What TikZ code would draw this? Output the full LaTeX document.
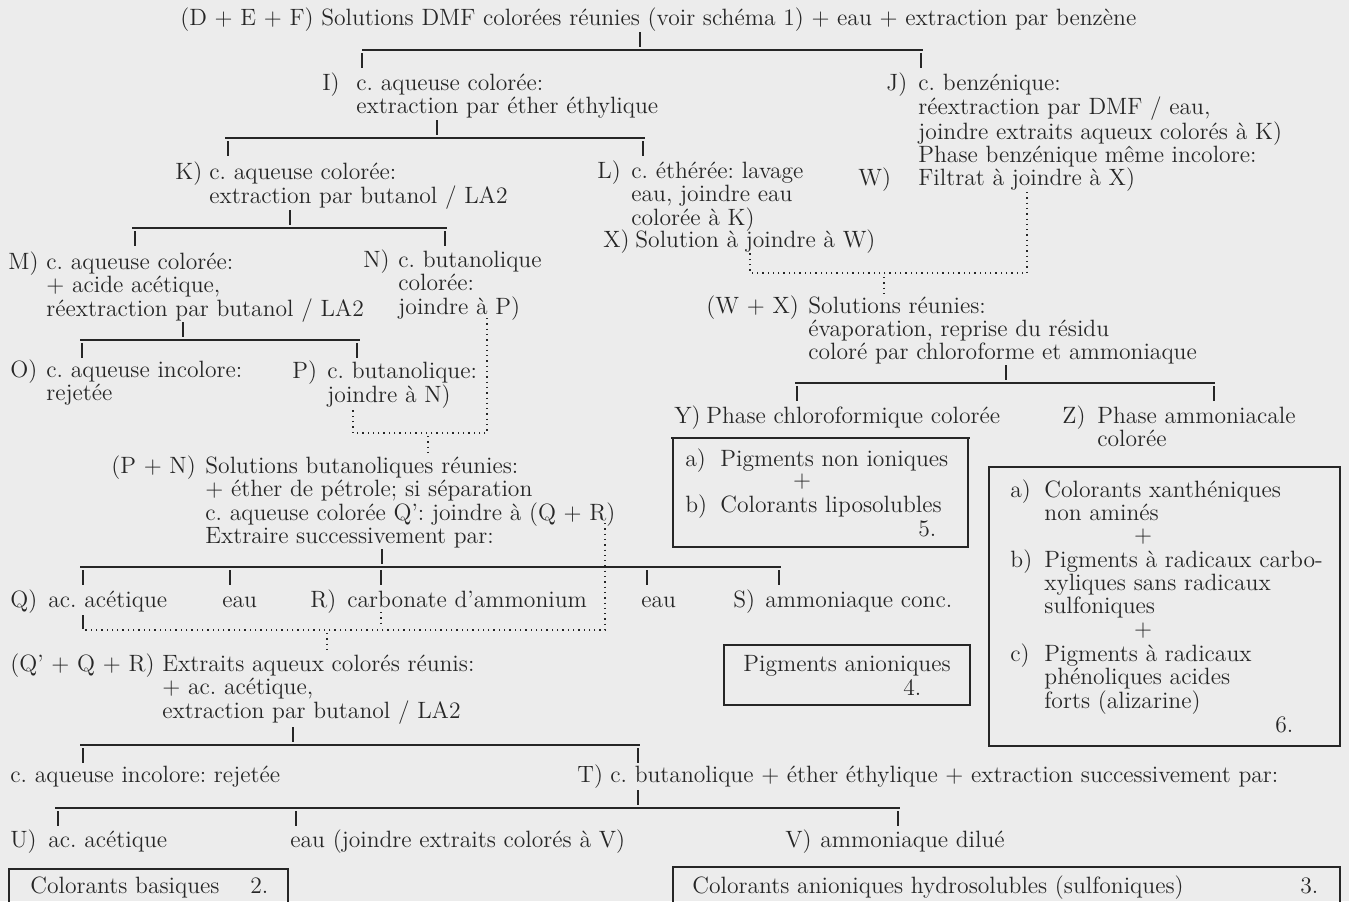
\documentclass[tikz,border=0pt]{standalone}
\usepackage{fontspec}
\usepackage{tikz}
\definecolor{paper}{RGB}{236,236,236}
\definecolor{ink}{RGB}{38,38,38}
\frenchspacing
\newcommand{\lineblock}[1]{\begin{tabular}[t]{@{}l@{}}#1\end{tabular}}
\tikzset{
  txt/.style={anchor=base west, inner sep=0pt, text=ink},
  plus/.style={anchor=base, inner sep=0pt, text=ink},
  bar/.style={draw=ink, line width=0.55pt},
  dots/.style={draw=ink, line width=0.65pt, dotted},
  panel/.style={draw=ink, line width=0.55pt}
}
% bracket: tick up, bar, ticks down
\newcommand{\branch}[5]{%
  \draw[bar] (#1,#2-18) -- (#1,#2-3);
  \draw[bar] (#3,#2) -- (#4,#2);
  \foreach \tx in {#5} \draw[bar] (\tx,#2+3) -- (\tx,#2+18);
}

\begin{document}
\begin{tikzpicture}[x=0.5pt, y=-0.5pt, font=\fontsize{11.8}{11.5}\selectfont]
\useasboundingbox (0,0) rectangle (1349,901);
\fill[paper] (0,0) rectangle (1349,901);

% Starting solution
\node[txt] (top) at (180,25) {(D + E + F) Solutions DMF colorées réunies (voir schéma 1) + eau + extraction par benzène};
\branch{640}{50}{362}{923}{362,921}

% Aqueous and benzene phases
\node[txt] (labI) at (322,90) {I)};
\node[txt] (I) at (356,90) {\lineblock{c. aqueuse colorée:\\extraction par éther éthylique}};
\node[txt] (labJ) at (886,90) {J)};
\node[txt] (J) at (918,90) {\lineblock{c. benzénique:\\réextraction par DMF / eau,\\joindre extraits aqueux colorés à K)\\Phase benzénique même incolore:}};
\node[txt] (labW) at (858,185) {W)};
\node[txt] (W) at (918,185) {Filtrat à joindre à X)};
\branch{437}{138}{225}{645}{228,643}

% Ether extraction
\node[txt] (labK) at (175,179) {K)};
\node[txt] (K) at (209,179) {\lineblock{c. aqueuse colorée:\\extraction par butanol / LA2}};
\node[txt] (labL) at (597,178) {L)};
\node[txt] (L) at (631,178) {\lineblock{c. éthérée: lavage\\eau, joindre eau\\colorée à K)}};
\node[txt] (labX) at (603,247) {X)};
\node[txt] (X) at (635,247) {Solution à joindre à W)};
\branch{290}{228}{132}{447}{135,445}

% Butanol extraction
\node[txt] (labM) at (8,269) {M)};
\node[txt] (M) at (46,269) {\lineblock{c. aqueuse colorée:\\+ acide acétique,\\réextraction par butanol / LA2}};
\node[txt] (labN) at (363,267) {N)};
\node[txt] (N) at (398,267) {\lineblock{c. butanolique\\colorée:\\joindre à P)}};
\branch{183}{340}{80}{360}{82,357}

\node[txt] (labO) at (10,377) {O)};
\node[txt] (O) at (46,377) {\lineblock{c. aqueuse incolore:\\rejetée}};
\node[txt] (labP) at (292,378) {P)};
\node[txt] (P) at (327,378) {\lineblock{c. butanolique:\\joindre à N)}};

% Joining W and X, N and P
\draw[dots] (1027,192) -- (1027,273) -- (750,273) -- (750,253);
\draw[dots] (884,277) -- (884,294);
\draw[dots] (487,318) -- (487,433) -- (353,433) -- (353,408);
\draw[dots] (428,436) -- (428,453);

% Butanol solutions
\node[txt] (labPN) at (111,473) {(P + N)};
\node[txt] (PN) at (205,473) {\lineblock{Solutions butanoliques réunies:\\+ éther de pétrole; si séparation\\c. aqueuse colorée Q’: joindre à (Q + R)\\Extraire successivement par:}};
\branch{382}{567}{80}{781}{83,230,381,647,779}

\node[txt] (labQ) at (10,607) {Q)};
\node[txt] (Q) at (48,607) {ac. acétique};
\node[txt] (eauA) at (222,607) {eau};
\node[txt] (labR) at (310,607) {R)};
\node[txt] (R) at (347,607) {carbonate d’ammonium};
\node[txt] (eauB) at (641,607) {eau};
\node[txt] (labS) at (733,607) {S)};
\node[txt] (S) at (765,607) {ammoniaque conc.};

% Joining Q', Q and R
\draw[bar] (83,615) -- (83,629);
\draw[dots] (381,612) -- (381,623);
\draw[dots] (605,523) -- (605,630) -- (83,630);
\draw[dots] (327,633) -- (327,650);

\node[txt] (labQQR) at (10,671) {(Q’ + Q + R)};
\node[txt] (QQR) at (162,671) {\lineblock{Extraits aqueux colorés réunis:\\+ ac. acétique,\\extraction par butanol / LA2}};
\branch{293}{745}{80}{640}{83,638}

\node[txt] (rej) at (10,782) {c. aqueuse incolore: rejetée};
\node[txt] (labT) at (577,782) {T)};
\node[txt] (T) at (610,782) {c. butanolique + éther éthylique + extraction successivement par:};
\branch{638}{808}{55}{900}{58,296,898}

\node[txt] (labU) at (10,847) {U)};
\node[txt] (U) at (48,847) {ac. acétique};
\node[txt] (eauC) at (290,847) {eau (joindre extraits colorés à V)};
\node[txt] (labV) at (785,847) {V)};
\node[txt] (V) at (820,847) {ammoniaque dilué};

% Result boxes, bottom
\draw[panel] (9,905) -- (9,869) -- (288,869) -- (288,905);
\node[txt] (basic) at (30,893) {Colorants basiques};
\node[txt] (num2) at (250,893) {2.};
\draw[panel] (673,905) -- (673,867) -- (1340,867) -- (1340,905);
\node[txt] (sulfo) at (692,893) {Colorants anioniques hydrosolubles (sulfoniques)};
\node[txt] (num3) at (1300,893) {3.};

% Evaporated solutions
\node[txt] (labWX) at (706,313) {(W + X)};
\node[txt] (WX) at (808,313) {\lineblock{Solutions réunies:\\évaporation, reprise du résidu\\coloré par chloroforme et ammoniaque}};
\branch{1006}{383}{795}{1215}{797,1214}

\node[txt] (labY) at (674,423) {Y)};
\node[txt] (Y) at (706,423) {Phase chloroformique colorée};
\node[txt] (labZ) at (1062,423) {Z)};
\node[txt] (Z) at (1097,423) {\lineblock{Phase ammoniacale\\colorée}};

% Box 5
\draw[panel] (671,438) -- (970,438);
\draw[panel] (673,438) rectangle (968,547);
\node[txt] (labYa) at (685,466) {a)};
\node[txt] (Ya) at (720,466) {Pigments non ioniques};
\node[plus] (Yplus) at (802,487) {+};
\node[txt] (labYb) at (685,512) {b)};
\node[txt] (Yb) at (720,512) {Colorants liposolubles};
\node[txt] (num5) at (918,536) {5.};

% Box 6
\draw[panel] (989,467) rectangle (1340,746);
\node[txt] (labZa) at (1010,497) {a)};
\node[txt] (Za) at (1044,497) {\lineblock{Colorants xanthéniques\\non aminés}};
\node[plus] (Zplus1) at (1143,542) {+};
\node[txt] (labZb) at (1010,567) {b)};
\node[txt] (Zb) at (1044,567) {\lineblock{Pigments à radicaux carbo-\\xyliques sans radicaux\\sulfoniques}};
\node[plus] (Zplus2) at (1143,636) {+};
\node[txt] (labZc) at (1010,661) {c)};
\node[txt] (Zc) at (1044,661) {\lineblock{Pigments à radicaux\\phénoliques acides\\forts (alizarine)}};
\node[txt] (num6) at (1275,732) {6.};

% Box 4
\draw[panel] (724,645) rectangle (970,705);
\node[txt] (anion) at (743,671) {Pigments anioniques};
\node[txt] (num4) at (903,695) {4.};

\end{tikzpicture}
\end{document}
